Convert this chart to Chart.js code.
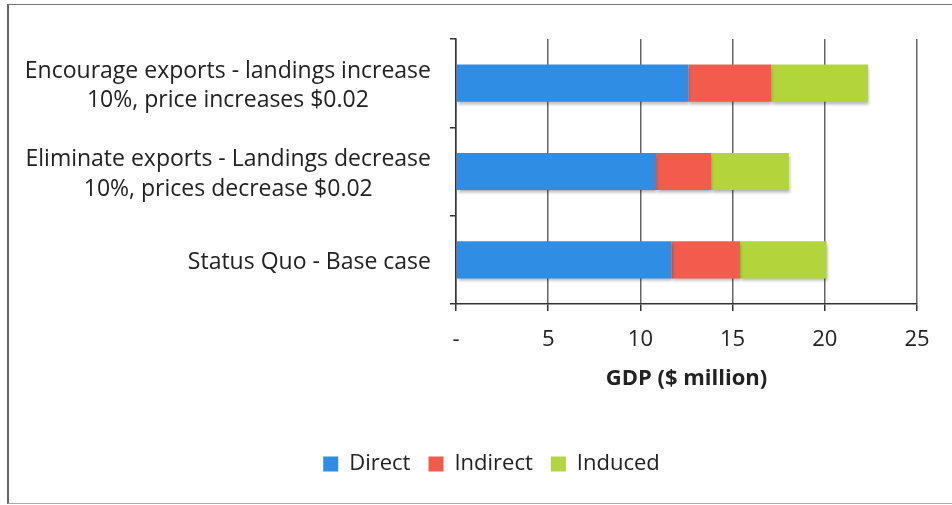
<!DOCTYPE html>
<html>
<head>
<meta charset="utf-8">
<script src="https://cdn.jsdelivr.net/npm/chart.js@4"></script>
<style>
  html, body { margin: 0; padding: 0; background: #fff; }
  #wrap { position: relative; width: 952px; height: 505px; overflow: hidden; }
  #frame { position: absolute; left: 7px; top: 4px; width: 960px; height: 498px;
           border-left: 2px solid #666; border-top: 1px solid #777; border-bottom: 1px solid #aaa; }
  canvas { position: absolute; left: 0; top: 0; }
</style>
</head>
<body>
<div id="wrap">
  <div id="frame"></div>
  <canvas id="gdpChart" width="952" height="505"></canvas>
</div>
<script>
// Scenarios, top to bottom
const scenarios = [
  ['Encourage exports - landings increase', '10%, price increases $0.02'],
  ['Eliminate exports - Landings decrease', '10%, prices decrease $0.02'],
  ['Status Quo - Base case']
];
const direct   = [12.6, 10.85, 11.7];
const indirect = [4.5, 3.0, 3.7];
const induced  = [5.25, 4.2, 4.7];
const xTicks   = [0, 5, 10, 15, 20, 25];

const FONT = '"Open Sans", sans-serif';
const TEXT = '#222';

// Excel-like drop shadow under the bars
const barShadow = {
  id: 'barShadow',
  beforeDatasetsDraw(chart) {
    const c = chart.ctx;
    c.save();
    c.shadowColor = 'rgba(0,0,0,0.28)';
    c.shadowBlur = 3;
    c.shadowOffsetX = 1;
    c.shadowOffsetY = 3;
  },
  afterDatasetsDraw(chart) {
    chart.ctx.restore();
  }
};

// Category labels: block right-aligned to the axis, lines centred within the block
const catLabels = {
  id: 'catLabels',
  afterDraw(chart) {
    const c = chart.ctx;
    const y = chart.scales.y;
    const right = y.right - 25;
    const lh = 29.5;
    c.save();
    c.font = '23px ' + FONT;
    c.fillStyle = TEXT;
    c.textAlign = 'center';
    c.textBaseline = 'middle';
    scenarios.forEach((lines, i) => {
      const w = Math.max(...lines.map(l => c.measureText(l).width));
      const cx = right - w / 2;
      const cy = y.getPixelForTick(i) + 3;
      lines.forEach((l, j) => {
        c.fillText(l, cx, cy + (j - (lines.length - 1) / 2) * lh);
      });
    });
    c.restore();
  }
};

// nudge the legend a bit to the right of the canvas centre
const legendShift = {
  id: 'legendShift',
  beforeDraw(chart) {
    const lg = chart.legend;
    if (lg && !lg._shifted) {
      lg.left += 33;
      lg.right += 33;
      lg._shifted = true;
    }
  }
};

new Chart(document.getElementById('gdpChart'), {
  type: 'bar',
  data: {
    labels: scenarios,
    datasets: [
      { label: 'Direct', data: direct, backgroundColor: '#2f8de4' },
      { label: 'Indirect', data: indirect, backgroundColor: '#f25c4c' },
      { label: 'Induced', data: induced, backgroundColor: '#b2d53c' }
    ]
  },
  options: {
    indexAxis: 'y',
    responsive: false,
    animation: false,
    layout: { padding: { left: 0, right: 35, top: 39, bottom: 20 } },
    datasets: {
      bar: { barPercentage: 0.42, categoryPercentage: 1.0, borderWidth: 0 }
    },
    plugins: {
      legend: {
        position: 'bottom',
        labels: {
          color: TEXT,
          font: { family: FONT, size: 22 },
          boxWidth: 15,
          boxHeight: 15,
          padding: 18
        }
      },
      tooltip: { enabled: false }
    },
    scales: {
      x: {
        stacked: true,
        min: 0,
        max: 25,
        afterBuildTicks(scale) {
          scale.ticks = xTicks.map(v => ({ value: v }));
        },
        afterFit(scale) { scale.height = 131; },
        grid: {
          color: '#666',
          lineWidth: 1.5,
          tickLength: 7,
          tickColor: '#333'
        },
        border: { color: '#333', width: 1.5 },
        ticks: {
          color: TEXT,
          font: { family: FONT, size: 22 },
          padding: 16,
          callback: v => (v === 0 ? '-' : v)
        },
        title: {
          display: true,
          text: 'GDP ($ million)',
          color: TEXT,
          font: { family: FONT, size: 22, weight: 'bold' },
          padding: { top: 8, bottom: 43 }
        }
      },
      y: {
        stacked: true,
        afterFit(scale) { scale.width = 456; },
        grid: {
          offset: true,
          drawOnChartArea: false,
          tickLength: 6,
          tickColor: '#333',
          lineWidth: 1.5
        },
        border: { color: '#333', width: 1.5 },
        ticks: { display: false }
      }
    }
  },
  plugins: [barShadow, catLabels, legendShift]
});
</script>
</body>
</html>
